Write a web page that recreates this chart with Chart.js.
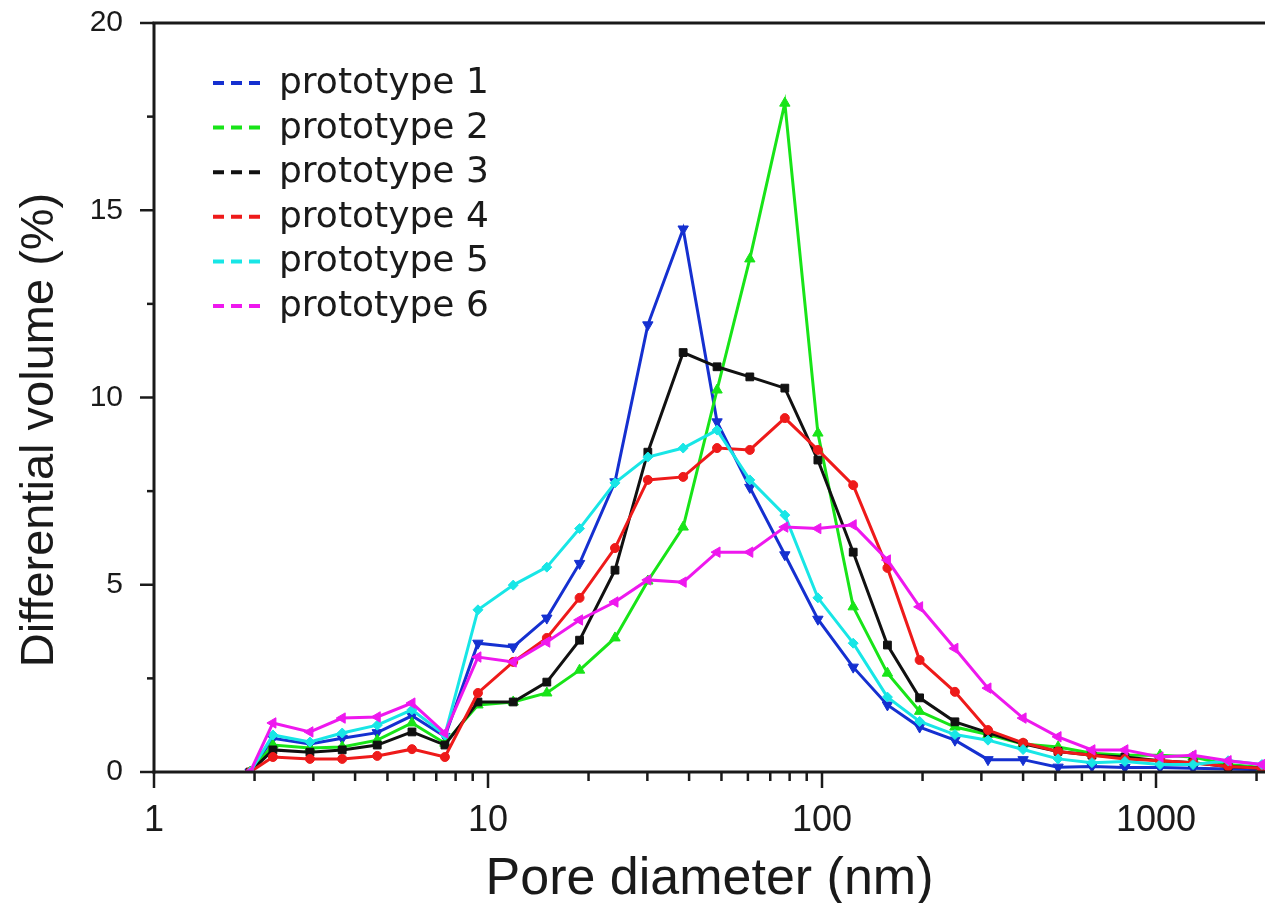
<!DOCTYPE html>
<html>
<head>
<meta charset="utf-8">
<script src="https://cdn.jsdelivr.net/npm/chart.js@4.4.1/dist/chart.umd.min.js"></script>
<style>
html,body{margin:0;padding:0;background:#fff;}
#wrap{width:1265px;height:903px;position:relative;}
</style>
</head>
<body>
<div id="wrap"><canvas id="c" width="1265" height="903"></canvas></div>
<script>
// ---- data ----
const poreDiameter = [1.94, 2.27, 2.93, 3.66, 4.66, 5.92, 7.43, 9.33, 11.9, 15.0, 18.8, 24.0, 30.1, 38.4, 48.5, 60.8, 77.4, 97.2, 124, 157, 196, 250, 314, 400, 509, 643, 807, 1028, 1291, 1644, 2075];
const seriesNames = ["prototype 1", "prototype 2", "prototype 3", "prototype 4", "prototype 5", "prototype 6"];
const prototype1 = [0, 0.9, 0.75, 0.9, 1.05, 1.5, 0.95, 3.44, 3.34, 4.11, 5.57, 7.75, 11.94, 14.5, 9.35, 7.6, 5.8, 4.08, 2.8, 1.79, 1.2, 0.85, 0.33, 0.33, 0.13, 0.15, 0.12, 0.12, 0.1, 0.08, 0.06];
const prototype2 = [0, 0.72, 0.64, 0.67, 0.85, 1.31, 0.77, 1.79, 1.87, 2.11, 2.72, 3.58, 5.1, 6.54, 10.2, 13.7, 17.86, 9.05, 4.41, 2.64, 1.62, 1.2, 1.0, 0.75, 0.67, 0.5, 0.45, 0.45, 0.4, 0.2, 0.12];
const prototype3 = [0, 0.59, 0.53, 0.59, 0.72, 1.07, 0.72, 1.87, 1.87, 2.4, 3.52, 5.39, 8.54, 11.2, 10.82, 10.55, 10.25, 8.33, 5.87, 3.39, 1.98, 1.34, 1.05, 0.75, 0.55, 0.45, 0.4, 0.3, 0.25, 0.15, 0.1];
const prototype4 = [0, 0.4, 0.35, 0.35, 0.43, 0.61, 0.4, 2.11, 2.94, 3.58, 4.65, 5.98, 7.8, 7.88, 8.65, 8.6, 9.45, 8.6, 7.66, 5.45, 2.99, 2.14, 1.12, 0.78, 0.55, 0.45, 0.35, 0.3, 0.25, 0.15, 0.1];
const prototype5 = [0, 0.99, 0.8, 1.04, 1.25, 1.66, 0.99, 4.33, 4.99, 5.47, 6.5, 7.72, 8.41, 8.65, 9.13, 7.8, 6.86, 4.65, 3.44, 2.0, 1.35, 1.0, 0.85, 0.6, 0.35, 0.25, 0.28, 0.2, 0.2, 0.3, 0.2];
const prototype6 = [0, 1.31, 1.07, 1.44, 1.47, 1.84, 1.04, 3.07, 2.94, 3.47, 4.06, 4.54, 5.13, 5.07, 5.87, 5.87, 6.54, 6.5, 6.6, 5.66, 4.41, 3.3, 2.24, 1.44, 0.94, 0.59, 0.59, 0.4, 0.45, 0.3, 0.2];
const yTickValues = [0, 5, 10, 15, 20];
const xTickLabels = [1, 10, 100, 1000];
const xTitle = "Pore diameter (nm)";
const yTitle = "Differential volume (%)";

// ---- styles ----
const seriesValues = [prototype1, prototype2, prototype3, prototype4, prototype5, prototype6];
const colors = ["#1530d0", "#18e418", "#111111", "#ee1a1a", "#18e6e6", "#ee18ee"];
const pStyles = ["triangle", "triangle", "rect", "circle", "rectRot", "triangle"];
const pRot = [180, 0, 0, 0, 0, 270];
const pRad = [6, 6, 5.5, 4.5, 5, 6];
const INK = "#1a1a1a";

const framePlugin = {
  id: "frame",
  afterDraw(chart) {
    const { ctx, chartArea: { left, right, top, bottom }, scales: { x, y } } = chart;
    ctx.save();
    ctx.strokeStyle = INK;
    ctx.lineCap = "butt";
    const line = (x1, y1, x2, y2) => { ctx.beginPath(); ctx.moveTo(x1, y1); ctx.lineTo(x2, y2); ctx.stroke(); };
    ctx.lineWidth = 3;
    line(left, top, left, bottom + 1.5);
    line(left - 1.5, bottom, right, bottom);
    line(left - 1.5, top, right, top);
    ctx.lineWidth = 2.5;
    const yMin = yTickValues[0], yMax = yTickValues[yTickValues.length - 1];
    const step = yTickValues[1] - yTickValues[0];
    for (let v = yMin; v <= yMax + 1e-9; v += step / 2) {
      const py = y.getPixelForValue(v);
      const major = Math.abs(v / step - Math.round(v / step)) < 1e-6;
      line(left - (major ? 14 : 7), py, left, py);
    }
    x.ticks.forEach(t => {
      const v = t.value;
      const e = Math.floor(Math.log10(v) + 1e-9);
      const m = v / Math.pow(10, e);
      if (Math.abs(m - Math.round(m)) > 1e-6) return;
      const px = x.getPixelForValue(v);
      if (px > right + 1) return;
      const major = Math.round(m) === 1;
      line(px, bottom, px, bottom + (major ? 16 : 9));
    });
    ctx.restore();
  }
};

const legendPlugin = {
  id: "customLegend",
  afterDraw(chart) {
    const { ctx, chartArea: { left, top } } = chart;
    ctx.save();
    chart.data.datasets.forEach((ds, i) => {
      const yl = top + 60 + i * 44.6;
      ctx.strokeStyle = ds.borderColor;
      ctx.lineWidth = 4;
      ctx.setLineDash([11, 7]);
      ctx.beginPath();
      ctx.moveTo(left + 59, yl);
      ctx.lineTo(left + 106, yl);
      ctx.stroke();
      ctx.setLineDash([]);
      ctx.fillStyle = INK;
      ctx.font = "36px 'DejaVu Sans'";
      ctx.textAlign = "left";
      ctx.textBaseline = "alphabetic";
      ctx.fillText(ds.label, left + 125, yl + 10);
    });
    ctx.restore();
  }
};

const yTitlePlugin = {
  id: "yTitle",
  afterDraw(chart) {
    const { ctx } = chart;
    ctx.save();
    ctx.translate(40, 430);
    ctx.rotate(-Math.PI / 2);
    ctx.fillStyle = INK;
    ctx.font = "47px 'Liberation Sans'";
    ctx.textAlign = "center";
    ctx.textBaseline = "middle";
    ctx.fillText(yTitle, 0, 0);
    ctx.restore();
  }
};

const datasets = seriesNames.map((name, i) => ({
  label: name,
  data: poreDiameter.map((d, j) => ({ x: d, y: seriesValues[i][j] })),
  borderColor: colors[i],
  backgroundColor: colors[i],
  pointBackgroundColor: colors[i],
  pointBorderColor: colors[i],
  pointStyle: pStyles[i],
  pointRotation: pRot[i],
  pointRadius: pRad[i],
  pointBorderWidth: 1,
  borderWidth: 3,
  tension: 0,
  fill: false,
  order: seriesNames.length - 1 - i
}));

new Chart(document.getElementById("c"), {
  type: "line",
  data: { datasets },
  options: {
    responsive: false,
    animation: false,
    devicePixelRatio: 1,
    layout: { autoPadding: false, padding: { top: 23, right: 0, bottom: 0, left: 0 } },
    plugins: { legend: { display: false }, tooltip: { enabled: false } },
    scales: {
      x: {
        type: "logarithmic",
        min: 1,
        max: 2120,
        grid: { display: false, drawTicks: false },
        border: { display: false },
        ticks: {
          autoSkip: false,
          maxRotation: 0,
          padding: 27,
          color: INK,
          font: { family: "'Liberation Sans'", size: 36 },
          callback: (v) => xTickLabels.includes(v) ? String(v) : ""
        },
        title: {
          display: true,
          text: xTitle,
          color: INK,
          font: { family: "'Liberation Sans'", size: 52, lineHeight: 0.9 },
          padding: { top: 0, bottom: 0 }
        },
        afterFit(s) { s.height = 131; s.paddingLeft = 0; s.paddingRight = 0; s.paddingTop = 0; s.paddingBottom = 0; }
      },
      y: {
        min: yTickValues[0],
        max: yTickValues[yTickValues.length - 1],
        grid: { display: false, drawTicks: false },
        border: { display: false },
        afterBuildTicks(s) { s.ticks = yTickValues.map(v => ({ value: v })); },
        ticks: {
          padding: 31,
          color: INK,
          font: { family: "'Liberation Sans'", size: 30 }
        },
        afterFit(s) { s.width = 154; s.paddingTop = 0; s.paddingBottom = 0; s.paddingLeft = 0; s.paddingRight = 0; }
      }
    }
  },
  plugins: [framePlugin, legendPlugin, yTitlePlugin]
});
</script>
</body>
</html>
